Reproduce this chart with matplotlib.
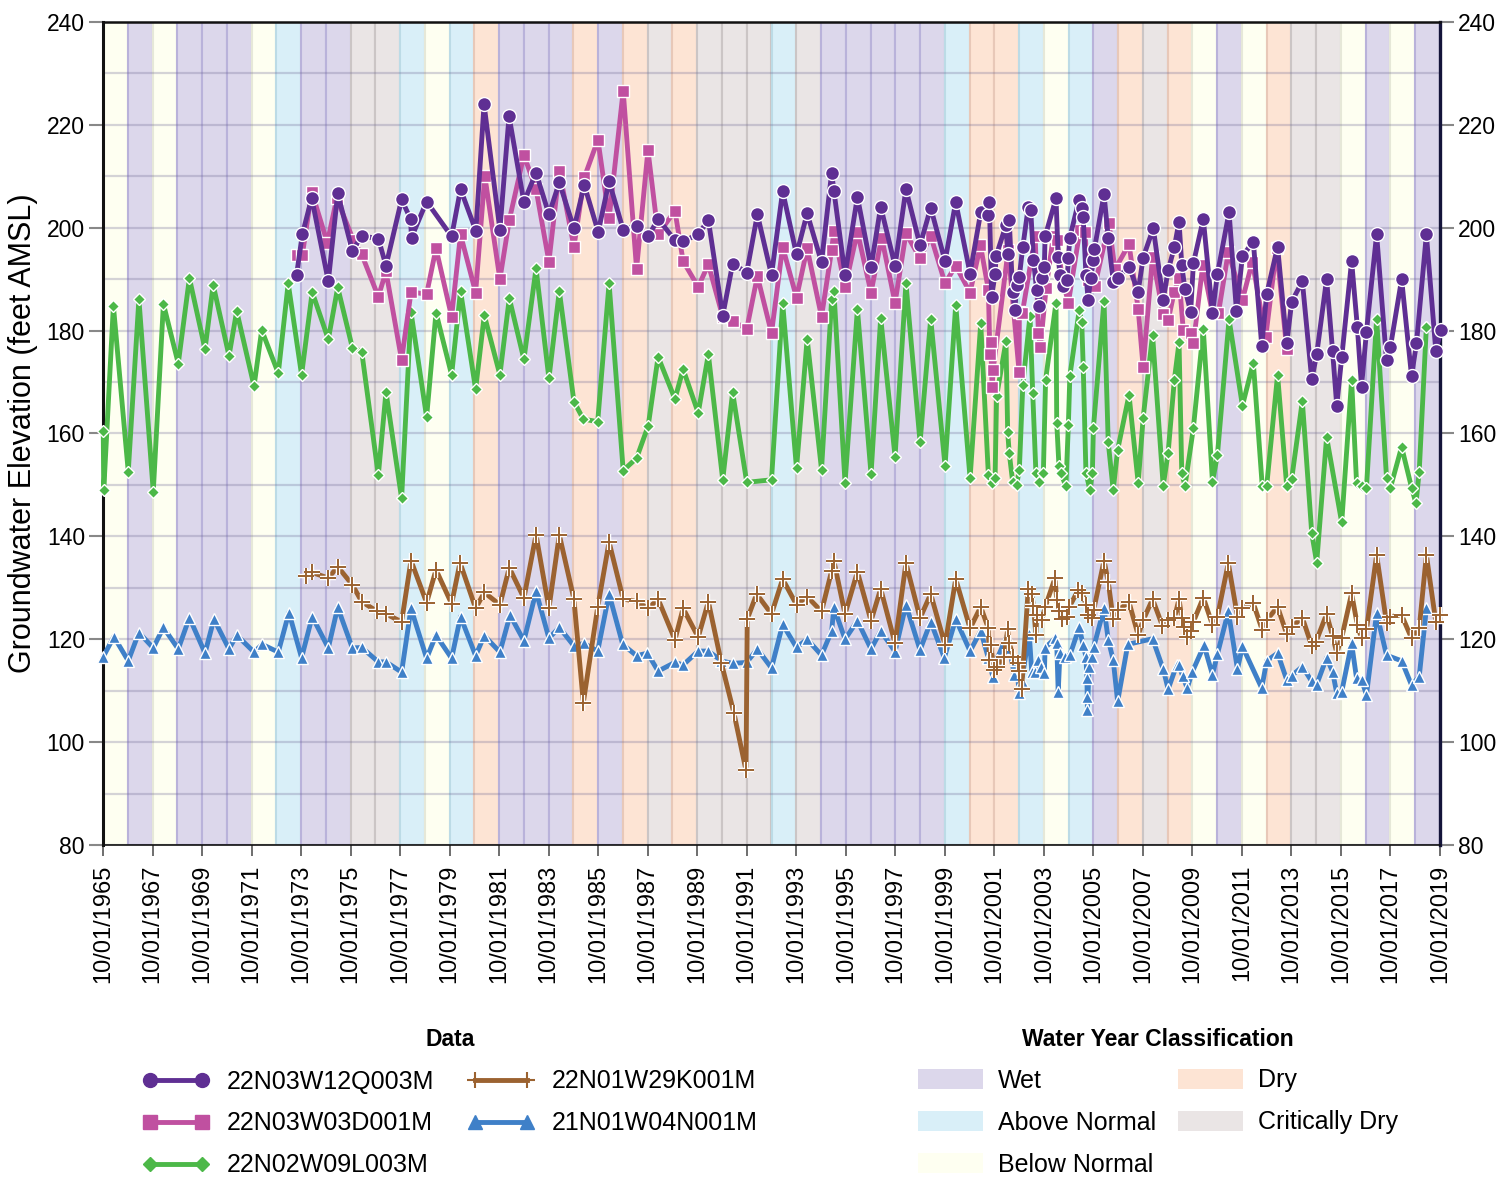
import numpy as np
import matplotlib
matplotlib.use("Agg")
import matplotlib.pyplot as plt
from matplotlib.lines import Line2D
from matplotlib.patches import Patch

plt.rcParams['font.family'] = ['Liberation Sans', 'DejaVu Sans']

# water year classification, water years 1966..2019 (band runs 10/01 of previous year)
wy_first = 1966
wy_class = ["BN", "W", "BN", "W", "W", "W", "BN", "AN", "W", "W",
            "C", "C", "AN", "BN", "AN", "D", "W", "W", "W", "D",
            "W", "D", "C", "D", "C", "C", "C", "AN", "C", "W",
            "W", "W", "W", "W", "AN", "D", "D", "AN", "BN", "AN",
            "W", "D", "C", "D", "BN", "W", "BN", "D", "C", "C",
            "BN", "W", "BN", "W"]

# well measurements: (decimal year, elevation ft AMSL)
q003m = [(1973.57, 190.9), (1973.80, 198.7), (1974.18, 205.8), (1974.85, 189.6), (1975.23, 206.7),
         (1975.82, 195.5), (1976.20, 198.4), (1976.87, 197.9), (1977.18, 192.6), (1977.81, 205.5),
         (1978.17, 201.7), (1978.21, 198.1), (1978.82, 205.1), (1979.83, 198.3), (1980.19, 207.5),
         (1980.81, 199.4), (1981.14, 224.0), (1981.78, 199.6), (1982.15, 221.7), (1982.75, 205.0),
         (1983.24, 210.7), (1983.76, 202.6), (1984.18, 208.8), (1984.77, 199.9), (1985.19, 208.3),
         (1985.75, 199.2), (1986.19, 209.0), (1986.76, 199.6), (1987.30, 200.4), (1987.77, 198.3),
         (1988.17, 201.7), (1988.85, 197.6), (1989.18, 197.4), (1989.79, 198.7), (1990.20, 201.5),
         (1990.78, 182.9), (1991.18, 193.0), (1991.75, 191.3), (1992.18, 202.6), (1992.75, 190.8),
         (1993.20, 207.1), (1993.76, 194.8), (1994.19, 202.8), (1994.77, 193.3), (1995.18, 210.7),
         (1995.27, 207.2), (1995.72, 190.9), (1996.22, 206.0), (1996.77, 192.3), (1997.16, 204.1),
         (1997.74, 192.6), (1998.18, 207.5), (1998.75, 196.6), (1999.18, 203.9), (1999.76, 193.5),
         (2000.19, 205.0), (2000.77, 191.1), (2001.20, 203.0), (2001.51, 202.5), (2001.55, 205.1),
         (2001.64, 186.6), (2001.78, 191.0), (2001.82, 194.5), (2002.22, 200.5), (2002.29, 194.8),
         (2002.35, 201.6), (2002.49, 187.6), (2002.58, 184.0), (2002.65, 188.9), (2002.76, 190.5),
         (2002.90, 196.3), (2003.12, 204.0), (2003.22, 203.5), (2003.33, 193.7), (2003.46, 187.9),
         (2003.57, 184.7), (2003.66, 190.2), (2003.77, 192.4), (2003.80, 198.3), (2004.24, 205.7),
         (2004.33, 194.4), (2004.40, 190.8), (2004.53, 188.6), (2004.69, 189.8), (2004.74, 194.1),
         (2004.80, 198.1), (2005.17, 205.4), (2005.28, 203.8), (2005.34, 202.0), (2005.45, 190.8),
         (2005.54, 186.0), (2005.64, 190.2), (2005.75, 193.7), (2005.79, 195.8), (2006.18, 206.5),
         (2006.35, 198.1), (2006.55, 189.5), (2006.73, 190.3), (2007.19, 192.4), (2007.56, 187.6),
         (2007.76, 194.2), (2008.17, 199.9), (2008.57, 186.0), (2008.77, 191.7), (2009.02, 196.2),
         (2009.21, 201.2), (2009.32, 192.8), (2009.45, 188.0), (2009.68, 183.7), (2009.79, 193.1),
         (2010.19, 201.7), (2010.56, 183.4), (2010.76, 191.0), (2011.23, 203.0), (2011.53, 183.8),
         (2011.77, 194.5), (2012.21, 197.3), (2012.55, 177.1), (2012.75, 187.1), (2013.19, 196.3),
         (2013.56, 177.5), (2013.76, 185.6), (2014.19, 189.6), (2014.57, 170.5), (2014.77, 175.4),
         (2015.17, 190.0), (2015.41, 176.1), (2015.58, 165.4), (2015.78, 174.8), (2016.18, 193.5),
         (2016.41, 180.8), (2016.58, 169.1), (2016.78, 179.8), (2017.19, 198.7), (2017.59, 174.2),
         (2017.75, 176.9), (2018.20, 190.0), (2018.60, 171.2), (2018.80, 177.5), (2019.20, 198.7),
         (2019.58, 176.1), (2019.79, 180.1)]

d001m = [(1973.57, 194.7), (1973.80, 194.7), (1974.18, 207.0), (1974.81, 197.1), (1975.19, 205.7),
         (1975.86, 197.6), (1976.20, 194.8), (1976.87, 186.6), (1977.18, 191.5), (1977.81, 174.3),
         (1978.19, 187.5), (1978.82, 187.1), (1979.20, 196.0), (1979.83, 182.7), (1980.19, 198.7),
         (1980.80, 187.4), (1981.17, 210.1), (1981.78, 190.0), (1982.16, 201.5), (1982.75, 214.1),
         (1983.24, 207.5), (1983.76, 193.4), (1984.18, 211.1), (1984.77, 196.3), (1985.19, 209.8),
         (1985.74, 217.1), (1986.19, 201.8), (1986.76, 226.6), (1987.30, 192.0), (1987.76, 215.1),
         (1988.17, 198.7), (1988.85, 203.3), (1989.18, 193.5), (1989.79, 188.5), (1990.20, 192.9),
         (1990.78, 182.7), (1991.18, 181.9), (1991.75, 180.3), (1992.18, 190.6), (1992.75, 179.5),
         (1993.20, 196.3), (1993.76, 186.4), (1994.19, 196.0), (1994.77, 182.7), (1995.18, 195.7),
         (1995.27, 199.4), (1995.72, 188.4), (1996.22, 199.2), (1996.77, 187.4), (1997.20, 198.1),
         (1997.74, 185.4), (1998.18, 198.9), (1998.75, 194.1), (1999.18, 198.4), (1999.76, 189.2),
         (2000.19, 192.6), (2000.77, 187.4), (2001.19, 196.6), (2001.51, 187.9), (2001.57, 175.4),
         (2001.60, 177.8), (2001.66, 169.0), (2001.70, 172.3), (2002.31, 195.7), (2002.75, 172.0),
         (2002.76, 183.7), (2002.88, 183.4), (2003.40, 198.3), (2003.53, 179.5), (2003.61, 176.9),
         (2003.84, 188.2), (2004.13, 198.3), (2004.27, 197.6), (2004.51, 189.8), (2004.74, 185.4),
         (2005.21, 199.6), (2005.41, 199.2), (2005.54, 189.8), (2005.81, 188.7), (2006.38, 200.9),
         (2006.62, 191.9), (2007.19, 196.8), (2007.56, 184.2), (2007.76, 172.9), (2008.14, 194.4),
         (2008.57, 183.2), (2008.77, 182.0), (2009.02, 187.6), (2009.21, 190.3), (2009.38, 180.1),
         (2009.68, 179.6), (2009.79, 177.5), (2010.17, 192.8), (2010.56, 183.4), (2010.80, 183.4),
         (2011.20, 195.3), (2011.77, 186.0), (2012.17, 193.4), (2012.71, 178.7), (2013.15, 196.0),
         (2013.56, 176.4)]

l003m = [(1965.76, 160.4), (1965.78, 149.0), (1966.17, 184.8), (1966.77, 152.6), (1967.20, 186.1),
         (1967.78, 148.7), (1968.19, 185.2), (1968.79, 173.6), (1969.24, 190.2), (1969.87, 176.4),
         (1970.20, 188.9), (1970.84, 175.1), (1971.15, 183.8), (1971.85, 169.2), (1972.16, 180.1),
         (1972.83, 171.7), (1973.23, 189.2), (1973.77, 171.4), (1974.20, 187.5), (1974.85, 178.3),
         (1975.23, 188.4), (1975.82, 176.7), (1976.20, 175.9), (1976.87, 151.9), (1977.18, 168.1),
         (1977.81, 147.4), (1978.19, 183.6), (1978.82, 163.2), (1979.20, 183.5), (1979.83, 171.4),
         (1980.19, 187.7), (1980.80, 168.6), (1981.15, 183.0), (1981.78, 171.4), (1982.16, 186.3),
         (1982.75, 174.4), (1983.24, 192.1), (1983.76, 170.7), (1984.18, 187.7), (1984.77, 166.2),
         (1985.15, 162.8), (1985.73, 162.3), (1986.19, 189.2), (1986.76, 152.8), (1987.30, 155.2),
         (1987.77, 161.5), (1988.17, 174.9), (1988.85, 166.7), (1989.18, 172.5), (1989.79, 164.0),
         (1990.20, 175.4), (1990.78, 151.0), (1991.18, 168.0), (1991.75, 150.5), (1992.75, 151.0),
         (1993.20, 185.4), (1993.76, 153.2), (1994.19, 178.4), (1994.77, 153.0), (1995.18, 186.1),
         (1995.27, 187.7), (1995.72, 150.4), (1996.22, 184.2), (1996.77, 152.1), (1997.16, 182.5),
         (1997.74, 155.5), (1998.18, 189.2), (1998.75, 158.3), (1999.18, 182.3), (1999.76, 153.7),
         (2000.19, 185.0), (2000.77, 151.3), (2001.20, 181.4), (2001.51, 151.9), (2001.64, 150.3),
         (2001.78, 151.3), (2001.84, 167.2), (2002.22, 177.9), (2002.29, 160.2), (2002.35, 156.3),
         (2002.49, 150.6), (2002.65, 150.0), (2002.76, 153.0), (2002.90, 169.4), (2003.19, 182.9),
         (2003.30, 167.9), (2003.43, 152.3), (2003.57, 150.6), (2003.73, 152.3), (2003.82, 170.4),
         (2004.24, 185.4), (2004.27, 162.1), (2004.36, 153.7), (2004.44, 152.3), (2004.64, 149.7),
         (2004.74, 161.7), (2004.80, 171.2), (2005.18, 184.0), (2005.28, 181.7), (2005.34, 173.0),
         (2005.45, 152.4), (2005.61, 149.0), (2005.71, 152.3), (2005.75, 161.0), (2006.18, 185.8),
         (2006.35, 158.3), (2006.55, 149.0), (2006.73, 156.8), (2007.19, 167.5), (2007.56, 150.4),
         (2007.76, 163.0), (2008.14, 179.2), (2008.57, 149.8), (2008.77, 156.3), (2009.02, 170.4),
         (2009.21, 177.7), (2009.32, 152.3), (2009.45, 149.8), (2009.79, 161.1), (2010.19, 180.3),
         (2010.56, 150.6), (2010.76, 155.8), (2011.23, 182.2), (2011.77, 165.4), (2012.21, 173.8),
         (2012.57, 149.8), (2012.75, 149.8), (2013.19, 171.4), (2013.56, 149.7), (2013.76, 151.2),
         (2014.19, 166.3), (2014.57, 140.6), (2014.77, 134.9), (2015.17, 159.3), (2015.78, 142.7),
         (2016.18, 170.4), (2016.38, 150.4), (2016.58, 149.7), (2016.78, 149.5), (2017.19, 182.3),
         (2017.59, 151.4), (2017.75, 149.5), (2018.20, 157.4), (2018.60, 149.5), (2018.78, 146.4),
         (2018.91, 152.6), (2019.20, 180.8)]

k001m = [(1973.95, 132.2), (1974.18, 133.0), (1974.85, 131.9), (1975.23, 134.1), (1975.82, 130.6),
         (1976.20, 127.3), (1976.83, 125.4), (1977.18, 124.9), (1977.81, 123.4), (1978.19, 135.3),
         (1978.82, 127.1), (1979.20, 133.5), (1979.83, 126.9), (1980.17, 134.9), (1980.80, 126.0),
         (1981.15, 129.1), (1981.78, 126.7), (1982.16, 133.9), (1982.75, 128.0), (1983.24, 140.3),
         (1983.76, 126.0), (1984.18, 140.3), (1984.77, 127.8), (1985.15, 107.7), (1985.73, 126.2),
         (1986.19, 138.9), (1986.76, 127.8), (1987.30, 127.4), (1987.77, 126.0), (1988.17, 127.8),
         (1988.85, 119.9), (1989.18, 126.0), (1989.79, 120.4), (1990.20, 127.3), (1990.73, 115.3),
         (1991.23, 105.7), (1991.72, 94.5), (1991.77, 123.9), (1992.15, 128.8), (1992.75, 124.9),
         (1993.20, 131.7), (1993.76, 126.7), (1994.19, 128.3), (1994.77, 125.4), (1995.18, 133.3),
         (1995.27, 135.2), (1995.72, 124.9), (1996.22, 133.1), (1996.77, 123.6), (1997.16, 129.8),
         (1997.74, 119.2), (1998.18, 134.8), (1998.75, 124.1), (1999.18, 128.8), (1999.76, 118.9),
         (2000.19, 131.7), (2000.77, 122.1), (2001.20, 126.3), (2001.51, 122.1), (2001.55, 116.0),
         (2001.60, 118.8), (2001.74, 114.0), (2001.84, 114.7), (2002.14, 116.6), (2002.29, 121.9),
         (2002.35, 119.3), (2002.51, 116.6), (2002.69, 115.4), (2002.76, 113.9), (2002.85, 110.3),
         (2003.12, 129.8), (2003.26, 128.8), (2003.33, 126.5), (2003.43, 120.8), (2003.46, 124.7),
         (2003.66, 123.7), (2003.80, 126.2), (2004.20, 131.9), (2004.27, 127.6), (2004.37, 125.4),
         (2004.47, 123.9), (2004.69, 124.4), (2004.77, 126.2), (2005.14, 129.6), (2005.31, 128.9),
         (2005.45, 126.7), (2005.54, 124.7), (2005.68, 124.1), (2005.76, 125.6), (2006.18, 135.3),
         (2006.35, 131.2), (2006.55, 123.9), (2006.73, 125.6), (2007.19, 127.2), (2007.56, 120.8),
         (2007.76, 123.7), (2008.14, 127.8), (2008.54, 122.6), (2008.77, 123.7), (2009.02, 124.1),
         (2009.21, 127.8), (2009.32, 124.1), (2009.42, 122.3), (2009.54, 120.5), (2009.68, 121.6),
         (2009.79, 123.4), (2010.19, 128.1), (2010.56, 122.8), (2010.76, 124.4), (2011.20, 134.8),
         (2011.57, 124.4), (2011.74, 126.0), (2012.21, 127.0), (2012.57, 121.8), (2012.75, 123.7),
         (2013.19, 126.3), (2013.56, 121.0), (2013.76, 122.4), (2014.19, 124.2), (2014.57, 118.7),
         (2014.74, 119.5), (2015.17, 124.9), (2015.41, 120.6), (2015.58, 117.4), (2015.78, 120.3),
         (2016.18, 128.9), (2016.41, 122.8), (2016.58, 120.2), (2016.78, 121.9), (2017.19, 136.4),
         (2017.59, 123.2), (2017.75, 124.4), (2018.20, 124.7), (2018.60, 120.2), (2018.91, 122.1),
         (2019.20, 136.4), (2019.58, 123.4), (2019.76, 124.7)]

n001m = [(1965.76, 116.6), (1966.19, 120.5), (1966.77, 115.8), (1967.20, 121.3), (1967.78, 118.3),
         (1968.19, 122.3), (1968.79, 118.1), (1969.24, 124.2), (1969.87, 117.3), (1970.23, 123.9),
         (1970.84, 118.1), (1971.15, 120.8), (1971.85, 117.5), (1972.18, 119.0), (1972.83, 117.5),
         (1973.26, 125.2), (1973.77, 116.4), (1974.20, 124.4), (1974.85, 118.3), (1975.23, 126.2),
         (1975.82, 118.3), (1976.20, 118.4), (1976.87, 115.6), (1977.18, 115.6), (1977.81, 113.6),
         (1978.19, 126.0), (1978.82, 116.3), (1979.20, 120.8), (1979.83, 116.3), (1980.19, 124.4),
         (1980.80, 116.8), (1981.15, 120.7), (1981.78, 117.5), (1982.19, 124.7), (1982.75, 119.7),
         (1983.24, 129.3), (1983.76, 120.2), (1984.18, 122.3), (1984.77, 118.7), (1985.17, 119.2),
         (1985.73, 117.7), (1986.19, 128.8), (1986.74, 119.0), (1987.30, 116.8), (1987.74, 117.3),
         (1988.17, 113.8), (1988.85, 115.5), (1989.18, 115.0), (1989.79, 117.7), (1990.20, 117.7),
         (1990.73, 115.8), (1991.18, 115.3), (1991.75, 115.5), (1992.18, 118.1), (1992.75, 114.4),
         (1993.20, 122.9), (1993.76, 118.4), (1994.19, 120.0), (1994.77, 116.9), (1995.18, 121.6),
         (1995.27, 126.2), (1995.72, 120.0), (1996.22, 123.6), (1996.77, 118.1), (1997.16, 121.6),
         (1997.74, 117.6), (1998.18, 126.7), (1998.75, 117.9), (1999.18, 123.4), (1999.73, 116.4),
         (2000.19, 123.9), (2000.77, 117.7), (2001.20, 121.6), (2001.51, 116.3), (2001.69, 112.7),
         (2001.84, 116.0), (2002.25, 120.5), (2002.35, 118.3), (2002.56, 113.1), (2002.62, 116.0),
         (2002.76, 109.5), (2002.85, 111.8), (2003.16, 121.1), (2003.26, 113.7), (2003.40, 113.7),
         (2003.53, 116.0), (2003.64, 114.7), (2003.77, 113.4), (2003.80, 118.3), (2004.20, 120.2),
         (2004.27, 119.2), (2004.33, 109.8), (2004.40, 117.3), (2004.60, 116.6), (2004.80, 116.9),
         (2005.18, 122.3), (2005.34, 118.8), (2005.45, 116.6), (2005.49, 112.4), (2005.50, 108.8),
         (2005.51, 106.3), (2005.58, 114.7), (2005.68, 116.6), (2005.76, 118.4), (2006.18, 126.0),
         (2006.35, 119.9), (2006.55, 116.0), (2006.73, 107.9), (2007.14, 119.0), (2008.14, 120.1),
         (2008.57, 114.2), (2008.77, 110.3), (2009.11, 114.9), (2009.21, 114.9), (2009.35, 112.9),
         (2009.54, 110.5), (2009.75, 113.7), (2010.22, 118.8), (2010.56, 113.1), (2010.76, 117.1),
         (2011.20, 125.4), (2011.57, 114.2), (2011.77, 118.6), (2012.55, 110.5), (2012.75, 115.8),
         (2013.19, 117.3), (2013.56, 112.1), (2013.76, 112.9), (2014.19, 114.7), (2014.57, 111.8),
         (2014.77, 111.2), (2015.17, 116.4), (2015.41, 113.7), (2015.58, 109.5), (2015.78, 109.8),
         (2016.18, 119.2), (2016.38, 112.4), (2016.58, 112.1), (2016.78, 109.2), (2017.19, 125.1),
         (2017.59, 116.9), (2018.20, 115.8), (2018.60, 111.1), (2018.91, 112.7), (2019.20, 126.0)]

wy_colors = {"W": "#dcd7eb", "AN": "#d9eff8", "BN": "#fefff1", "D": "#fde4d4", "C": "#eae5e5"}
wy_edges = {"W": "#b9b2da", "AN": "#bcdbe6", "BN": "#e6e8d8", "D": "#e8c8b8", "C": "#cbc5c5"}
wy_names = [("W", "Wet"), ("AN", "Above Normal"), ("BN", "Below Normal"),
            ("D", "Dry"), ("C", "Critically Dry")]

fig = plt.figure(figsize=(14.99, 11.77), dpi=100)
ax = fig.add_axes([103/1499, 1-845/1177, (1440-103)/1499, (845-22)/1177])

# water year bands
for i, c in enumerate(wy_class):
    start = wy_first - 1 + 0.75 + i
    ax.axvspan(start, start + 1, facecolor=wy_colors[c], edgecolor=wy_edges[c], lw=1.5, zorder=0)

ax.set_axisbelow(True)
ax.set_yticks(np.arange(80, 241, 20))
ax.set_yticks(np.arange(80, 241, 10), minor=True)
ax.grid(which='both', axis='y', color='#6a6490', alpha=0.28, lw=1.6)

def plot_series(pts, color, marker, ms, zo):
    x = [p[0] for p in pts]
    y = [p[1] for p in pts]
    ax.plot(x, y, color=color, lw=3.5, marker=marker, ms=ms, mec='white', mew=1.0,
            zorder=zo, clip_on=False)

plot_series(n001m, '#3f80c8', '^', 9, 3)

# brown plus markers with white outline
kx = [p[0] for p in k001m]
ky = [p[1] for p in k001m]
ax.plot(kx, ky, color='#9b6230', lw=3.5, zorder=4)
ax.plot(kx, ky, ls='none', marker='+', ms=12, mew=3.2, color='white', zorder=4.1, clip_on=False)
ax.plot(kx, ky, ls='none', marker='+', ms=11, mew=1.4, color='#9b6230', zorder=4.2, clip_on=False)

plot_series(l003m, '#4cb848', 'D', 6.5, 5)
plot_series(d001m, '#c050a0', 's', 9, 6)
plot_series(q003m, '#5f2f93', 'o', 10, 7)

ax.set_xlim(1965.75, 2019.75)
ax.set_ylim(80, 240)

xt = np.arange(1965, 2020, 2)
ax.set_xticks(xt + 0.75)
ax.set_xticklabels([f"10/01/{y}" for y in xt], rotation=90, fontsize=17)
ax.tick_params(axis='x', direction='out', length=8, width=1.2, color='#555555', pad=6)
ax.tick_params(axis='y', which='major', direction='out', length=10, width=1.5, color='#888888',
               labelsize=16.5, right=True, labelright=True, pad=3)
ax.tick_params(axis='y', which='minor', length=0)

ax.set_ylabel("Groundwater Elevation (feet AMSL)", fontsize=22, labelpad=6)

for s in ['left', 'bottom', 'top']:
    ax.spines[s].set_color('#111111')
ax.spines['left'].set_linewidth(2.2)
ax.spines['top'].set_linewidth(1.8)
ax.spines['bottom'].set_linewidth(1.2)
ax.spines['right'].set_color('#14143a')
ax.spines['right'].set_linewidth(2.4)

# legends
data_handles = [
    Line2D([], [], color='#5f2f93', lw=3.5, marker='o', ms=10, mec='#5f2f93'),
    Line2D([], [], color='#c050a0', lw=3.5, marker='s', ms=10, mec='#c050a0'),
    Line2D([], [], color='#4cb848', lw=3.5, marker='D', ms=7, mec='#4cb848'),
    Line2D([], [], color='#9b6230', lw=3.5, marker='+', ms=12, mew=1.5),
    Line2D([], [], color='#3f80c8', lw=3.5, marker='^', ms=10, mec='#3f80c8'),
]
data_labels = ["22N03W12Q003M", "22N03W03D001M", "22N02W09L003M", "22N01W29K001M", "21N01W04N001M"]
leg1 = fig.legend(handles=data_handles, labels=data_labels, loc='upper center',
                  bbox_to_anchor=(450/1499, 1-1006/1177), ncol=2, frameon=False,
                  title='Data', title_fontproperties={'weight': 'bold', 'size': 16.5},
                  fontsize=18, numpoints=2, handlelength=2.7, columnspacing=1.3,
                  labelspacing=0.72, handletextpad=0.7)

wy_handles = [Patch(facecolor=wy_colors[k], edgecolor='none') for k, _ in wy_names]
leg2 = fig.legend(handles=wy_handles, labels=[n for _, n in wy_names], loc='upper center',
                  bbox_to_anchor=(1158/1499, 1-1005/1177), ncol=2, frameon=False,
                  title='Water Year Classification', title_fontproperties={'weight': 'bold', 'size': 16.5},
                  fontsize=18, handlelength=2.6, handleheight=0.9, columnspacing=0.9,
                  labelspacing=0.72, handletextpad=0.6)

fig.savefig("out.png", dpi=100)
